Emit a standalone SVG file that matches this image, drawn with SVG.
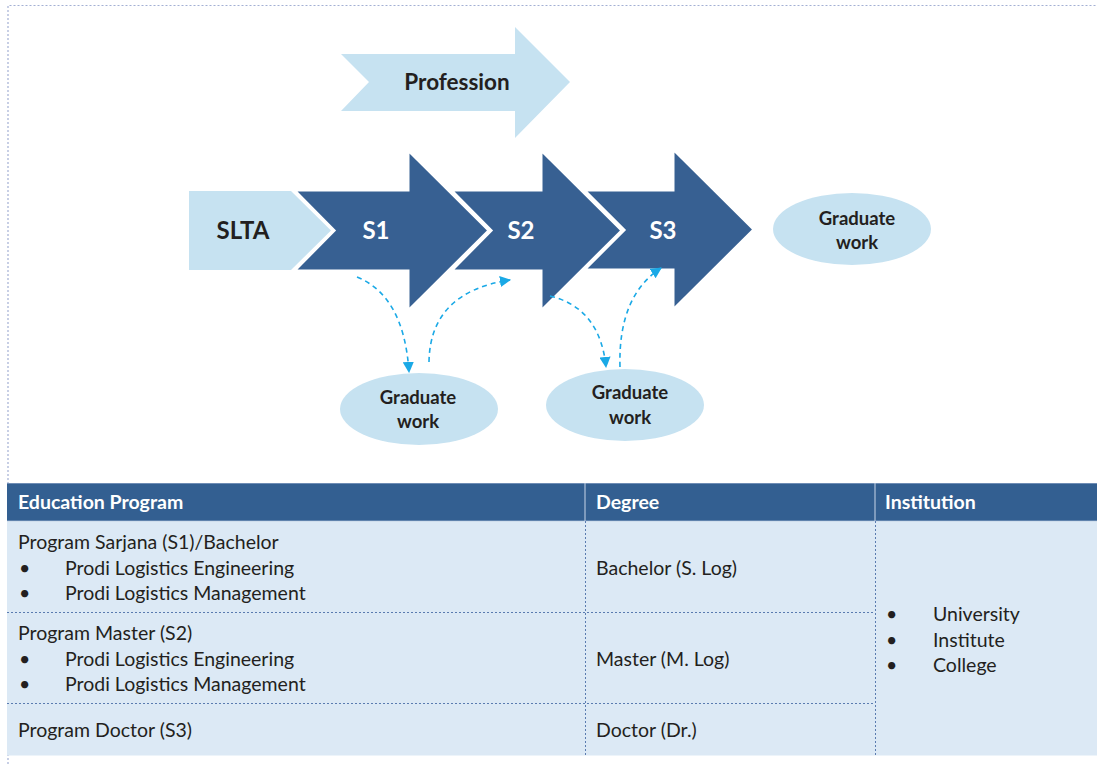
<svg xmlns="http://www.w3.org/2000/svg" width="1097" height="764" viewBox="0 0 1097 764">
<style>
.dark{fill:#376092;stroke:#ffffff;stroke-width:3}
.light{fill:#c6e2f1}
.ell{fill:#c6e2f1}
.lbl{font-family:Lato,"Liberation Sans",sans-serif;font-weight:bold;fill:#231f20}
.wl{font-family:Lato,"Liberation Sans",sans-serif;font-weight:bold;fill:#ffffff}
.conn{fill:none;stroke:#1aa9e6;stroke-width:1.6;stroke-dasharray:5 4}
.th{font-family:Lato,"Liberation Sans",sans-serif;font-weight:bold;font-size:19.5px;fill:#ffffff}
.td{font-family:Lato,"Liberation Sans",sans-serif;font-size:19.5px;fill:#231f20}
.dot{stroke:#5a7bb0;stroke-width:1;stroke-dasharray:2 2;fill:none}
</style>
<defs>
<marker id="ah" viewBox="0 0 10 10" refX="9" refY="5" markerWidth="7" markerHeight="7" markerUnits="strokeWidth" orient="auto">
<path d="M0,0 L10,5 L0,10 Z" fill="#1aa9e6"/>
</marker>
</defs>
<rect width="1097" height="764" fill="#ffffff"/>
<path d="M8,764 V5.5 H1097" fill="none" stroke="#a3b0d4" stroke-width="1.2" stroke-dasharray="2 2"/>

<g id="profession">
<path class="light" d="M341,54 H515 V27 L570,82 L515,138 V111 H341 L369,82 Z"/>
<text class="lbl" x="457" y="90" font-size="22.5" text-anchor="middle">Profession</text>
</g>

<g id="slta">
<path class="light" d="M189,191 H291 L331,230.5 L291,270 H189 Z"/>
<text class="lbl" x="243" y="239" font-size="24" text-anchor="middle">SLTA</text>
</g>

<g id="s1">
<path class="dark" d="M294,190 H408 V150 L489,230.5 L408,311 V271 H294 L334,230.5 Z"/>
<text class="wl" x="376" y="239" font-size="24" text-anchor="middle">S1</text>
</g>

<g id="s2">
<path class="dark" d="M451,190 H541 V150 L622,230.5 L541,311 V271 H451 L491,230.5 Z"/>
<text class="wl" x="521" y="239" font-size="24" text-anchor="middle">S2</text>
</g>

<g id="s3">
<path class="dark" d="M584,190 H673 V149 L754,229.5 L673,310 V270 H584 L624,230 Z"/>
<text class="wl" x="663" y="239" font-size="24" text-anchor="middle">S3</text>
</g>

<g id="grad-right">
<ellipse class="ell" cx="852" cy="229" rx="79" ry="36"/>
<text class="lbl" x="857" y="225" font-size="18.5" text-anchor="middle">Graduate</text>
<text class="lbl" x="857" y="249" font-size="18.5" text-anchor="middle">work</text>
</g>

<g id="grad-s1">
<ellipse class="ell" cx="419" cy="409" rx="79" ry="36"/>
<text class="lbl" x="418" y="404" font-size="18.5" text-anchor="middle">Graduate</text>
<text class="lbl" x="418" y="428" font-size="18.5" text-anchor="middle">work</text>
</g>

<g id="grad-s2">
<ellipse class="ell" cx="625" cy="405" rx="79" ry="36"/>
<text class="lbl" x="630" y="399" font-size="18.5" text-anchor="middle">Graduate</text>
<text class="lbl" x="630" y="424" font-size="18.5" text-anchor="middle">work</text>
</g>

<g id="connectors">
<path class="conn" d="M357,277 Q404,296 409,372" marker-end="url(#ah)"/>
<path class="conn" d="M429,362 Q430,292 510,280" marker-end="url(#ah)"/>
<path class="conn" d="M550,296 Q600,308 606,367" marker-end="url(#ah)"/>
<path class="conn" d="M620,367 Q618,296 661,268" marker-end="url(#ah)"/>
</g>

<g id="table">
<rect x="7" y="483" width="1090" height="38" fill="#335f91"/>
<line x1="7" y1="483.5" x2="1097" y2="483.5" stroke="#6f8db5" stroke-width="1"/>
<line x1="7" y1="521" x2="1097" y2="521" stroke="#8fa9c9" stroke-width="1"/>
<line x1="585" y1="483" x2="585" y2="521" stroke="#c9d6e8" stroke-width="1"/>
<line x1="875" y1="483" x2="875" y2="521" stroke="#c9d6e8" stroke-width="1"/>
<rect x="7" y="521.5" width="1090" height="234" fill="#dce9f5"/>
<line class="dot" x1="7" y1="612.5" x2="875" y2="612.5"/>
<line class="dot" x1="7" y1="703.5" x2="875" y2="703.5"/>
<line class="dot" x1="585.5" y1="521" x2="585.5" y2="755"/>
<line class="dot" x1="875.5" y1="521" x2="875.5" y2="755"/>

<text class="th" x="18" y="509">Education Program</text>
<text class="th" x="596" y="509">Degree</text>
<text class="th" x="885" y="509">Institution</text>

<text class="td" x="18" y="549">Program Sarjana (S1)/Bachelor</text>
<text class="td" x="19" y="575">•</text>
<text class="td" x="65" y="575">Prodi Logistics Engineering</text>
<text class="td" x="19" y="600">•</text>
<text class="td" x="65" y="600">Prodi Logistics Management</text>

<text class="td" x="18" y="640">Program Master (S2)</text>
<text class="td" x="19" y="666">•</text>
<text class="td" x="65" y="666">Prodi Logistics Engineering</text>
<text class="td" x="19" y="691">•</text>
<text class="td" x="65" y="691">Prodi Logistics Management</text>

<text class="td" x="18" y="737">Program Doctor (S3)</text>

<text class="td" x="596" y="575">Bachelor (S. Log)</text>
<text class="td" x="596" y="666">Master (M. Log)</text>
<text class="td" x="596" y="737">Doctor (Dr.)</text>

<text class="td" x="886" y="621">•</text>
<text class="td" x="933" y="621">University</text>
<text class="td" x="886" y="647">•</text>
<text class="td" x="933" y="647">Institute</text>
<text class="td" x="886" y="672">•</text>
<text class="td" x="933" y="672">College</text>
</g>
</svg>
